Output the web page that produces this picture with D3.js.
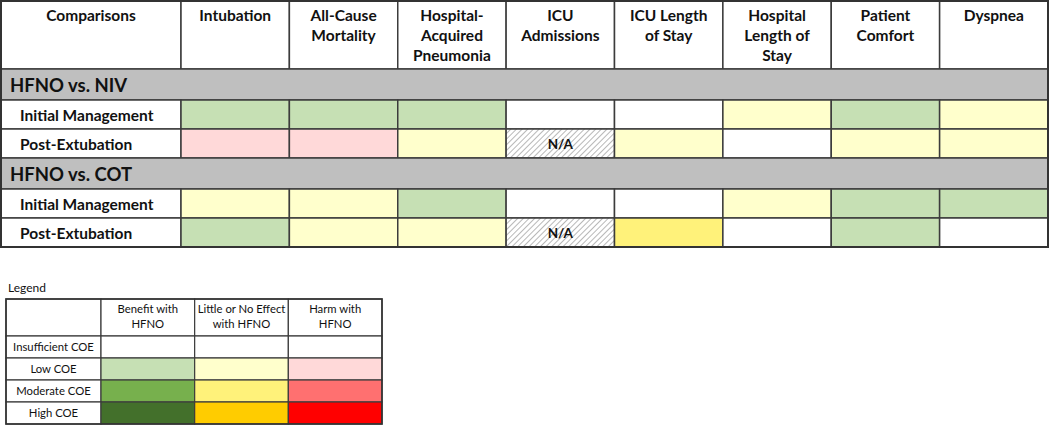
<!DOCTYPE html>
<html><head><meta charset="utf-8">
<script src="https://cdn.jsdelivr.net/npm/d3@7"></script>
<style>
html,body{margin:0;padding:0;background:#fff;}
svg{display:block;font-family:Lato,"Open Sans",sans-serif;}
</style></head>
<body><div id="chart"></div>
<script>
// ---- data ----
const outcomes = [["Intubation"],["All-Cause","Mortality"],["Hospital-","Acquired","Pneumonia"],["ICU","Admissions"],["ICU Length","of Stay"],["Hospital","Length of","Stay"],["Patient","Comfort"],["Dyspnea"]];
const comparisons = ["HFNO vs. NIV","HFNO vs. COT"];
const settings = ["Initial Management","Post-Extubation"];
// codes: I = insufficient, LB/LN/LH = low benefit/no effect/harm, MB/MN/MH moderate, HB/HN/HH high, NA = not applicable
const niv_initial = ["LB","LB","LB","I","I","LN","LB","LN"];
const niv_post    = ["LH","LH","LN","NA","LN","I","LN","LN"];
const cot_initial = ["LN","LN","LB","I","I","LN","LB","LB"];
const cot_post    = ["LB","LN","LN","NA","MN","I","LB","I"];
const ratings = [[niv_initial, niv_post],[cot_initial, cot_post]];

const legendEffects = [["Benefit with","HFNO"],["Little or No Effect","with HFNO"],["Harm with","HFNO"]];
const legendLevels = ["Insufficient COE","Low COE","Moderate COE","High COE"];
const legendCodes = [["I","I","I"],["LB","LN","LH"],["MB","MN","MH"],["HB","HN","HH"]];

const colorOf = {I:"#ffffff", LB:"#c6e0b4", LN:"#ffffcc", LH:"#ffd9d9",
  MB:"#77b04d", MN:"#fff27a", MH:"#ff7070", HB:"#43702b", HN:"#ffcc00", HH:"#ff0000", NA:"url(#hatch)"};

// ---- layout ----
const W=1050,H=426;
const svg=d3.select("#chart").append("svg").attr("width",W).attr("height",H);
const defs=svg.append("defs");
const pat=defs.append("pattern").attr("id","hatch").attr("patternUnits","userSpaceOnUse")
  .attr("width",4).attr("height",4).attr("patternTransform","rotate(45)");
pat.append("rect").attr("width",4).attr("height",4).attr("fill","#fff");
pat.append("line").attr("x1",0).attr("y1",0).attr("x2",0).attr("y2",4).attr("stroke","#a6a6a6").attr("stroke-width",1.6);

const line="#3c3c3c";
const fs=15.5;
const x = d3.scaleBand().domain(d3.range(outcomes.length)).range([181,1048]).padding(0);
const firstX=1;
const headerTop=1, headerH=68, secH=31, rowH=29;

const g=svg.append("g");
// header
g.append("rect").attr("x",firstX).attr("y",headerTop).attr("width",180).attr("height",headerH).attr("fill","#fff").attr("stroke",line).attr("stroke-width",1.5);
g.append("text").attr("x",91).attr("y",headerTop+20).attr("text-anchor","middle").attr("font-weight","bold").attr("font-size",fs).attr("fill","#111").text("Comparisons");
outcomes.forEach((lines,i)=>{
  g.append("rect").attr("x",x(i)).attr("y",headerTop).attr("width",x.bandwidth()).attr("height",headerH).attr("fill","#fff").attr("stroke",line).attr("stroke-width",1.5);
  const t=g.append("text").attr("text-anchor","middle").attr("font-weight","bold").attr("font-size",fs).attr("fill","#111");
  lines.forEach((l,k)=>t.append("tspan").attr("x",x(i)+x.bandwidth()/2).attr("y",headerTop+20+k*20).text(l));
});
let y=headerTop+headerH;
comparisons.forEach((comp,ci)=>{
  g.append("rect").attr("x",firstX).attr("y",y).attr("width",1048-firstX).attr("height",secH).attr("fill","#bfbfbf").attr("stroke",line).attr("stroke-width",1.5);
  g.append("text").attr("x",10).attr("y",y+22.5).attr("font-weight","bold").attr("font-size",18.5).attr("fill","#111").text(comp);
  y+=secH;
  settings.forEach((s,si)=>{
    g.append("rect").attr("x",firstX).attr("y",y).attr("width",180).attr("height",rowH).attr("fill","#fff").attr("stroke",line).attr("stroke-width",1.5);
    g.append("text").attr("x",20).attr("y",y+20.5).attr("font-weight","bold").attr("font-size",fs).attr("fill","#111").text(s);
    ratings[ci][si].forEach((code,i)=>{
      g.append("rect").attr("x",x(i)).attr("y",y).attr("width",x.bandwidth()).attr("height",rowH).attr("fill",colorOf[code]).attr("stroke",line).attr("stroke-width",1.5);
      if(code==="NA") g.append("text").attr("x",x(i)+x.bandwidth()/2).attr("y",y+19.5).attr("text-anchor","middle").attr("font-weight","bold").attr("font-size",13.5).attr("fill","#111").text("N/A");
    });
    y+=rowH;
  });
});
// outer border
g.append("rect").attr("x",firstX).attr("y",headerTop).attr("width",1048-firstX).attr("height",y-headerTop).attr("fill","none").attr("stroke","#333").attr("stroke-width",2);

// ---- legend ----
const lg=svg.append("g");
lg.append("text").attr("x",8).attr("y",292).attr("font-size",12).attr("fill","#111").text("Legend");
const lx = d3.scaleBand().domain(d3.range(legendEffects.length)).range([101,382]);
const lTop=299, lHeadH=37, lRowH=22;
const lfs=11.3;
lg.append("rect").attr("x",6).attr("y",lTop).attr("width",95).attr("height",lHeadH).attr("fill","#fff").attr("stroke",line).attr("stroke-width",1.2);
legendEffects.forEach((lines,i)=>{
  lg.append("rect").attr("x",lx(i)).attr("y",lTop).attr("width",lx.bandwidth()).attr("height",lHeadH).attr("fill","#fff").attr("stroke",line).attr("stroke-width",1.2);
  const t=lg.append("text").attr("text-anchor","middle").attr("font-size",lfs).attr("fill","#111");
  lines.forEach((l,k)=>t.append("tspan").attr("x",lx(i)+lx.bandwidth()/2).attr("y",lTop+14+k*14.5).text(l));
});
legendLevels.forEach((lev,r)=>{
  const yy=lTop+lHeadH+r*lRowH;
  lg.append("rect").attr("x",6).attr("y",yy).attr("width",95).attr("height",lRowH).attr("fill","#fff").attr("stroke",line).attr("stroke-width",1.2);
  lg.append("text").attr("x",53.5).attr("y",yy+15).attr("text-anchor","middle").attr("font-size",lfs).attr("fill","#111").text(lev);
  legendCodes[r].forEach((code,i)=>{
    lg.append("rect").attr("x",lx(i)).attr("y",yy).attr("width",lx.bandwidth()).attr("height",lRowH).attr("fill",colorOf[code]).attr("stroke",line).attr("stroke-width",1.2);
  });
});
lg.append("rect").attr("x",6).attr("y",lTop).attr("width",376).attr("height",lHeadH+4*lRowH).attr("fill","none").attr("stroke","#333").attr("stroke-width",1.6);
</script></body></html>
